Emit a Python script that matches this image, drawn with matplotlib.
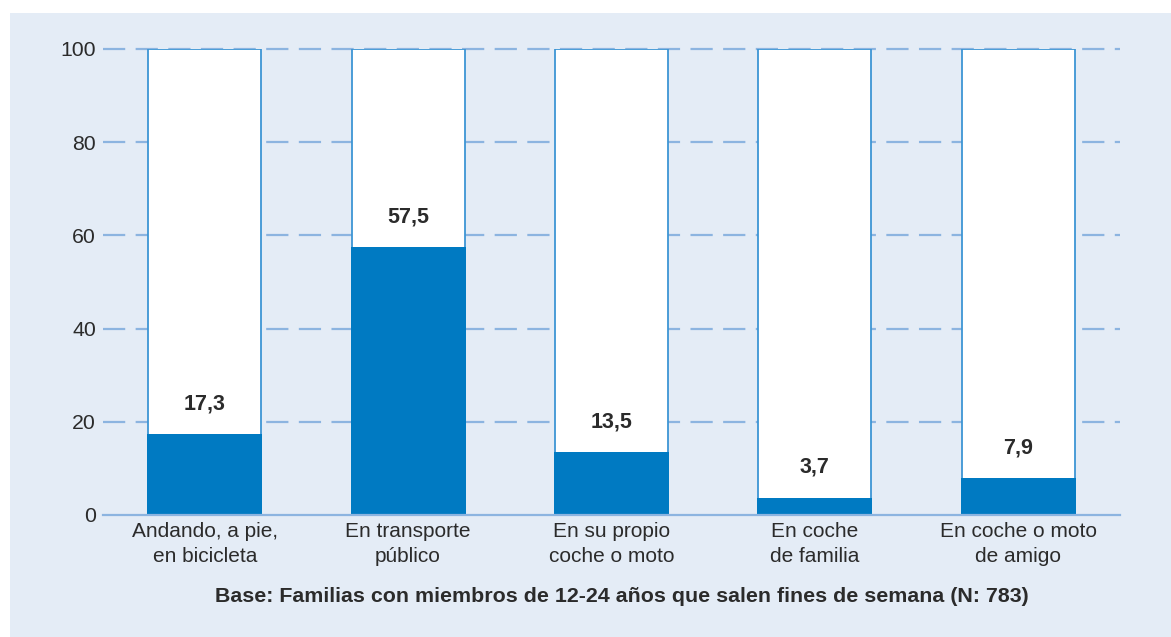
import matplotlib.pyplot as plt
from matplotlib.patches import Rectangle

plt.rcParams['font.family'] = ['Liberation Sans', 'DejaVu Sans']
plt.rcParams['lines.scale_dashes'] = False

categories = ["Andando, a pie,\nen bicicleta", "En transporte\npúblico",
              "En su propio\ncoche o moto", "En coche\nde familia",
              "En coche o moto\nde amigo"]
values = [17.3, 57.5, 13.5, 3.7, 7.9]
value_labels = ["17,3", "57,5", "13,5", "3,7", "7,9"]
yticks = [0, 20, 40, 60, 80, 100]
footer = "Base: Familias con miembros de 12-24 años que salen fines de semana (N: 783)"

bg = "#e4ecf6"
blue = "#007ac2"
edge = "#3d95d4"
grid = "#8cb4e0"
txt = "#2b2b2b"

W, H = 1171, 637
fig = plt.figure(figsize=(W / 100, H / 100), dpi=100)
fig.patch.set_facecolor("white")
fig.patches.append(Rectangle((10 / W, 0), 1 - 10 / W, (H - 13) / H,
                             transform=fig.transFigure, facecolor=bg,
                             edgecolor="none", zorder=-10))

ax = fig.add_axes([103 / W, (H - 515) / H, (1120 - 103) / W, (515 - 49) / H])
ax.set_facecolor("none")
x = range(len(categories))

# dashed gridlines behind the bars
for t in yticks[1:]:
    ax.axhline(t, color=grid, lw=1.6, ls=(0, (16, 7.5)), zorder=0, clip_on=False)
ax.axhline(0, color=grid, lw=1.6, zorder=4, clip_on=False)

w = 0.555
ax.bar(x, [100] * len(values), width=w, color="white", edgecolor=edge,
       linewidth=1.3, zorder=2)
ax.bar(x, values, width=w + 0.01, color=blue, edgecolor="none", zorder=3)

for xi, v, lab in zip(x, values, value_labels):
    ax.text(xi, v + 6.5, lab, ha="center", va="center", fontsize=15.5,
            fontweight="bold", color=txt, zorder=5)

ax.set_xlim(-0.5, len(categories) - 0.5)
ax.set_ylim(0, 100)
ax.set_yticks(yticks)
ax.set_xticks(list(x))
ax.set_xticklabels(categories, fontsize=15, color=txt, linespacing=1.38)
ax.tick_params(axis="y", length=0, pad=5, labelsize=15.3, labelcolor=txt)
ax.tick_params(axis="x", length=0, pad=5)
for s in ax.spines.values():
    s.set_visible(False)

fig.text(622 / W, (H - 597) / H, footer, ha="center", va="center",
         fontsize=15.4, fontweight="bold", color=txt)

fig.savefig("out.png", dpi=100)
